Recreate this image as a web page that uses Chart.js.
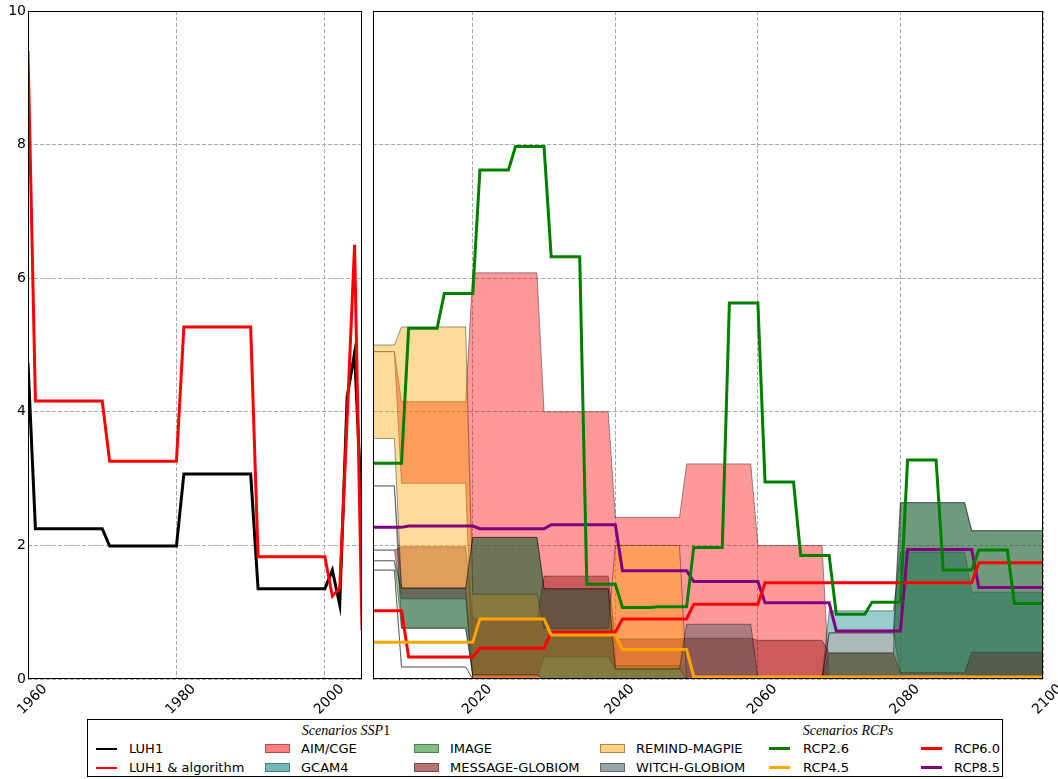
<!DOCTYPE html>
<html>
<head>
<meta charset="utf-8">
<script src="https://cdn.jsdelivr.net/npm/chart.js@4"></script>
<style>
  body { margin: 0; background: #fff; width: 1058px; height: 779px; position: relative; overflow: hidden; font-family: "DejaVu Sans", sans-serif; }
  #left { position: absolute; left: 0; top: 0; }
  #right { position: absolute; left: 370px; top: 0; }
  #legend { position: absolute; left: 87px; top: 719px; width: 916px; height: 58px; border: 1px solid #000; box-sizing: border-box; font-size: 13px; color: #000; }
  .t { position: absolute; white-space: nowrap; line-height: 16px; }
  .ttl { position: absolute; white-space: nowrap; font-family: "Liberation Serif", serif; font-size: 14px; line-height: 16px; transform: translateX(-50%); }
  .ln { position: absolute; width: 21px; }
  .pt { position: absolute; width: 25px; height: 9px; border: 1px solid rgba(0,0,0,0.35); box-sizing: border-box; }
</style>
</head>
<body>
<canvas id="left" width="370" height="715"></canvas>
<canvas id="right" width="688" height="715"></canvas>
<div id="legend">
  <div class="ttl" style="left:258px; top:3px;"><i>Scenarios SSP</i>1</div>
  <div class="ttl" style="left:760px; top:3px;"><i>Scenarios RCPs</i></div>

  <div class="ln" style="left:8px; top:28px; height:2px; background:#000;"></div>
  <div class="t" style="left:41px; top:21px;">LUH1</div>
  <div class="ln" style="left:8px; top:47px; height:2px; background:#f00;"></div>
  <div class="t" style="left:41px; top:40px;">LUH1 &amp; algorithm</div>

  <div class="pt" style="left:177px; top:24px; background:rgba(255,0,0,0.5);"></div>
  <div class="t" style="left:213px; top:21px;">AIM/CGE</div>
  <div class="pt" style="left:177px; top:43px; background:rgba(0,128,128,0.55);"></div>
  <div class="t" style="left:213px; top:40px;">GCAM4</div>

  <div class="pt" style="left:326px; top:24px; background:rgba(0,128,0,0.5);"></div>
  <div class="t" style="left:362px; top:21px;">IMAGE</div>
  <div class="pt" style="left:326px; top:43px; background:rgba(128,0,0,0.55);"></div>
  <div class="t" style="left:362px; top:40px;">MESSAGE-GLOBIOM</div>

  <div class="pt" style="left:512px; top:24px; background:rgba(255,165,0,0.5);"></div>
  <div class="t" style="left:548px; top:21px;">REMIND-MAGPIE</div>
  <div class="pt" style="left:512px; top:43px; background:rgba(47,79,79,0.5);"></div>
  <div class="t" style="left:548px; top:40px;">WITCH-GLOBIOM</div>

  <div class="ln" style="left:681px; top:27px; height:3px; background:#008000;"></div>
  <div class="t" style="left:715px; top:21px;">RCP2.6</div>
  <div class="ln" style="left:681px; top:46px; height:3px; background:#ffa500;"></div>
  <div class="t" style="left:715px; top:40px;">RCP4.5</div>

  <div class="ln" style="left:833px; top:27px; height:3px; background:#f00;"></div>
  <div class="t" style="left:866px; top:21px;">RCP6.0</div>
  <div class="ln" style="left:833px; top:46px; height:3px; background:#800080;"></div>
  <div class="t" style="left:866px; top:40px;">RCP8.5</div>
</div>
<script>
// historical panel
const histYears = [1960, 1961, 1970, 1971, 1980, 1981, 1990, 1991, 2000, 2001, 2002, 2003, 2004, 2005];
const luh1 = [4.73, 2.25, 2.25, 1.99, 1.99, 3.07, 3.07, 1.35, 1.35, 1.63, 1.11, 4.22, 4.88, 2.43];
const luh1Algo = [9.4, 4.16, 4.16, 3.26, 3.26, 5.27, 5.27, 1.83, 1.83, 1.24, 1.36, 3.9, 6.5, 0.73];

// RCP scenarios, 5-year periods
const rcpStart = [2006, 2011, 2016, 2021, 2026, 2031, 2036, 2041, 2046, 2051, 2056, 2061, 2066, 2071, 2076, 2081, 2086, 2091, 2096];
const rcpEnd   = [2010, 2015, 2020, 2025, 2030, 2035, 2040, 2045, 2050, 2055, 2060, 2065, 2070, 2075, 2080, 2085, 2090, 2095, 2100];
const rcp26 = [3.23, 5.25, 5.77, 7.62, 7.97, 6.32, 1.42, 1.07, 1.08, 1.97, 5.63, 2.95, 1.85, 0.97, 1.15, 3.28, 1.63, 1.93, 1.13];
const rcp45 = [0.55, 0.55, 0.55, 0.90, 0.90, 0.66, 0.66, 0.44, 0.44, 0.03, 0.03, 0.03, 0.03, 0.03, 0.03, 0.03, 0.03, 0.03, 0.03];
const rcp60 = [1.02, 0.33, 0.33, 0.46, 0.46, 0.70, 0.70, 0.90, 0.90, 1.12, 1.12, 1.44, 1.44, 1.44, 1.44, 1.44, 1.44, 1.74, 1.74];
const rcp85 = [2.27, 2.29, 2.29, 2.25, 2.25, 2.31, 2.31, 1.62, 1.62, 1.46, 1.46, 1.14, 1.14, 0.72, 0.72, 1.94, 1.94, 1.37, 1.37];

// SSP1 model ranges (min / max), decade periods
const sspStart = [2006, 2010, 2020, 2030, 2040, 2050, 2060, 2070, 2080, 2090];
const sspEnd   = [2009, 2019, 2029, 2039, 2049, 2059, 2069, 2079, 2089, 2100];
const aimLow      = [4.9, 2.93, 0.0, 0.0, 0.0, 0.0, 0.03, 0, 0, 0];
const aimHigh     = [4.9, 4.15, 6.08, 4.0, 2.42, 3.22, 2.0, 0, 0, 0];
const gcamLow     = [1.63, 0.18, 0, 0, 0, 0, 0, 0.69, 0.09, 0.0];
const gcamHigh    = [1.63, 0.18, 0, 0, 0, 0, 0, 1.02, 1.9, 1.3];
const imageLow    = [1.77, 0.76, 0.06, 0.0, 0.0, 0, 0, 0.0, 0.0, 0.0];
const imageHigh   = [1.77, 1.36, 2.12, 1.35, 0.2, 0, 0, 0.39, 2.64, 2.22];
const messageLow  = [1.93, 1.2, 0.0, 0.33, 0.15, 0.0, 0.03, 0.0, 0.0, 0.0];
const messageHigh = [1.93, 1.98, 0.9, 1.54, 0.6, 0.61, 0.58, 0.39, 0.09, 0.4];
const remindLow   = [3.6, 1.36, 0.0, 0.0, 0.0, 0, 0, 0, 0, 0];
const remindHigh  = [5.0, 5.27, 1.27, 0.76, 2.0, 0, 0, 0, 0, 0];
const witchLow    = [2.89, 0.76, 0.06, 0.0, 0.0, 0.0, 0, 0.0, 0.0, 0.0];
const witchHigh   = [2.89, 1.36, 2.12, 1.35, 0.15, 0.82, 0, 0.69, 2.64, 2.22];

const leftTicks = [1960, 1980, 2000];
const rightTicks = [2020, 2040, 2060, 2080, 2100];
const yTicks = [0, 2, 4, 6, 8, 10];

Chart.defaults.font.family = "DejaVu Sans";
Chart.defaults.font.size = 14;
Chart.defaults.color = "#000";
Chart.defaults.animation = false;

function periodPoints(starts, ends, vals) {
  return starts.flatMap((s, i) => [{x: s, y: vals[i]}, {x: ends[i], y: vals[i]}]);
}

const frame = {
  id: "frame",
  afterDraw(c) {
    const a = c.chartArea, ctx = c.ctx;
    ctx.save();
    ctx.strokeStyle = "#000";
    ctx.lineWidth = 1;
    ctx.strokeRect(Math.round(a.left) + 0.5, Math.round(a.top) + 0.5, Math.round(a.right - a.left) - 1, Math.round(a.bottom - a.top) - 1);
    ctx.restore();
  }
};

function axes(xmin, xmax, xticks, showY) {
  return {
    x: {
      type: "linear", min: xmin, max: xmax,
      afterBuildTicks: s => { s.ticks = xticks.map(v => ({value: v})); },
      afterFit: s => { s.height = 36; },
      ticks: { callback: v => String(v), minRotation: 45, maxRotation: 45, labelOffset: 17, padding: 2, autoSkip: false },
      grid: { color: "#a8a8a8", drawTicks: false },
      border: { display: false, dash: [4, 2] }
    },
    y: {
      min: 0, max: 10,
      afterBuildTicks: s => { s.ticks = yTicks.map(v => ({value: v})); },
      afterFit: s => { s.width = showY ? 28 : 0; },
      ticks: { display: showY, callback: v => String(v), padding: 2 },
      grid: { color: "#a8a8a8", drawTicks: false },
      border: { display: false, dash: [4, 2] }
    }
  };
}

function line(data, color, width) {
  return { data: data, borderColor: color, borderWidth: width, pointRadius: 0, fill: false, order: 0, tension: 0 };
}

// left: historical
new Chart(document.getElementById("left"), {
  type: "line",
  data: {
    datasets: [
      line(histYears.map((x, i) => ({x: x, y: luh1Algo[i]})), "#ff0000", 3),
      line(histYears.map((x, i) => ({x: x, y: luh1[i]})), "#000000", 3)
    ]
  },
  options: {
    responsive: false,
    layout: { padding: { top: 11, right: 8, left: 0, bottom: 0 } },
    plugins: { legend: { display: false }, tooltip: { enabled: false } },
    scales: axes(1960, 2005, leftTicks, true)
  },
  plugins: [frame]
});

// right: scenarios
const models = [
  { low: aimLow, high: aimHigh, rgb: "255,0,0" },
  { low: gcamLow, high: gcamHigh, rgb: "0,128,128" },
  { low: imageLow, high: imageHigh, rgb: "0,128,0" },
  { low: messageLow, high: messageHigh, rgb: "128,0,0" },
  { low: remindLow, high: remindHigh, rgb: "255,165,0" },
  { low: witchLow, high: witchHigh, rgb: "47,79,79" }
];

const datasets = [
  line(periodPoints(rcpStart, rcpEnd, rcp26), "#008000", 3),
  line(periodPoints(rcpStart, rcpEnd, rcp45), "#ffa500", 3),
  line(periodPoints(rcpStart, rcpEnd, rcp60), "#ff0000", 3),
  line(periodPoints(rcpStart, rcpEnd, rcp85), "#800080", 3)
];
models.forEach((m, k) => {
  const ord = 100 - k * 10;
  const edge = "rgba(0,0,0,0.4)";
  datasets.push({ data: periodPoints(sspStart, sspEnd, m.low), borderColor: edge, borderWidth: 1, pointRadius: 0, fill: false, order: ord, tension: 0 });
  datasets.push({ data: periodPoints(sspStart, sspEnd, m.high), borderColor: edge, borderWidth: 1, pointRadius: 0, fill: "-1", backgroundColor: "rgba(" + m.rgb + ",0.4)", order: ord, tension: 0 });
});

new Chart(document.getElementById("right"), {
  type: "line",
  data: { datasets: datasets },
  options: {
    responsive: false,
    layout: { padding: { top: 11, right: 15, left: 3, bottom: 0 } },
    plugins: { legend: { display: false }, tooltip: { enabled: false } },
    scales: axes(2006, 2100, rightTicks, false)
  },
  plugins: [frame]
});
</script>
</body>
</html>
